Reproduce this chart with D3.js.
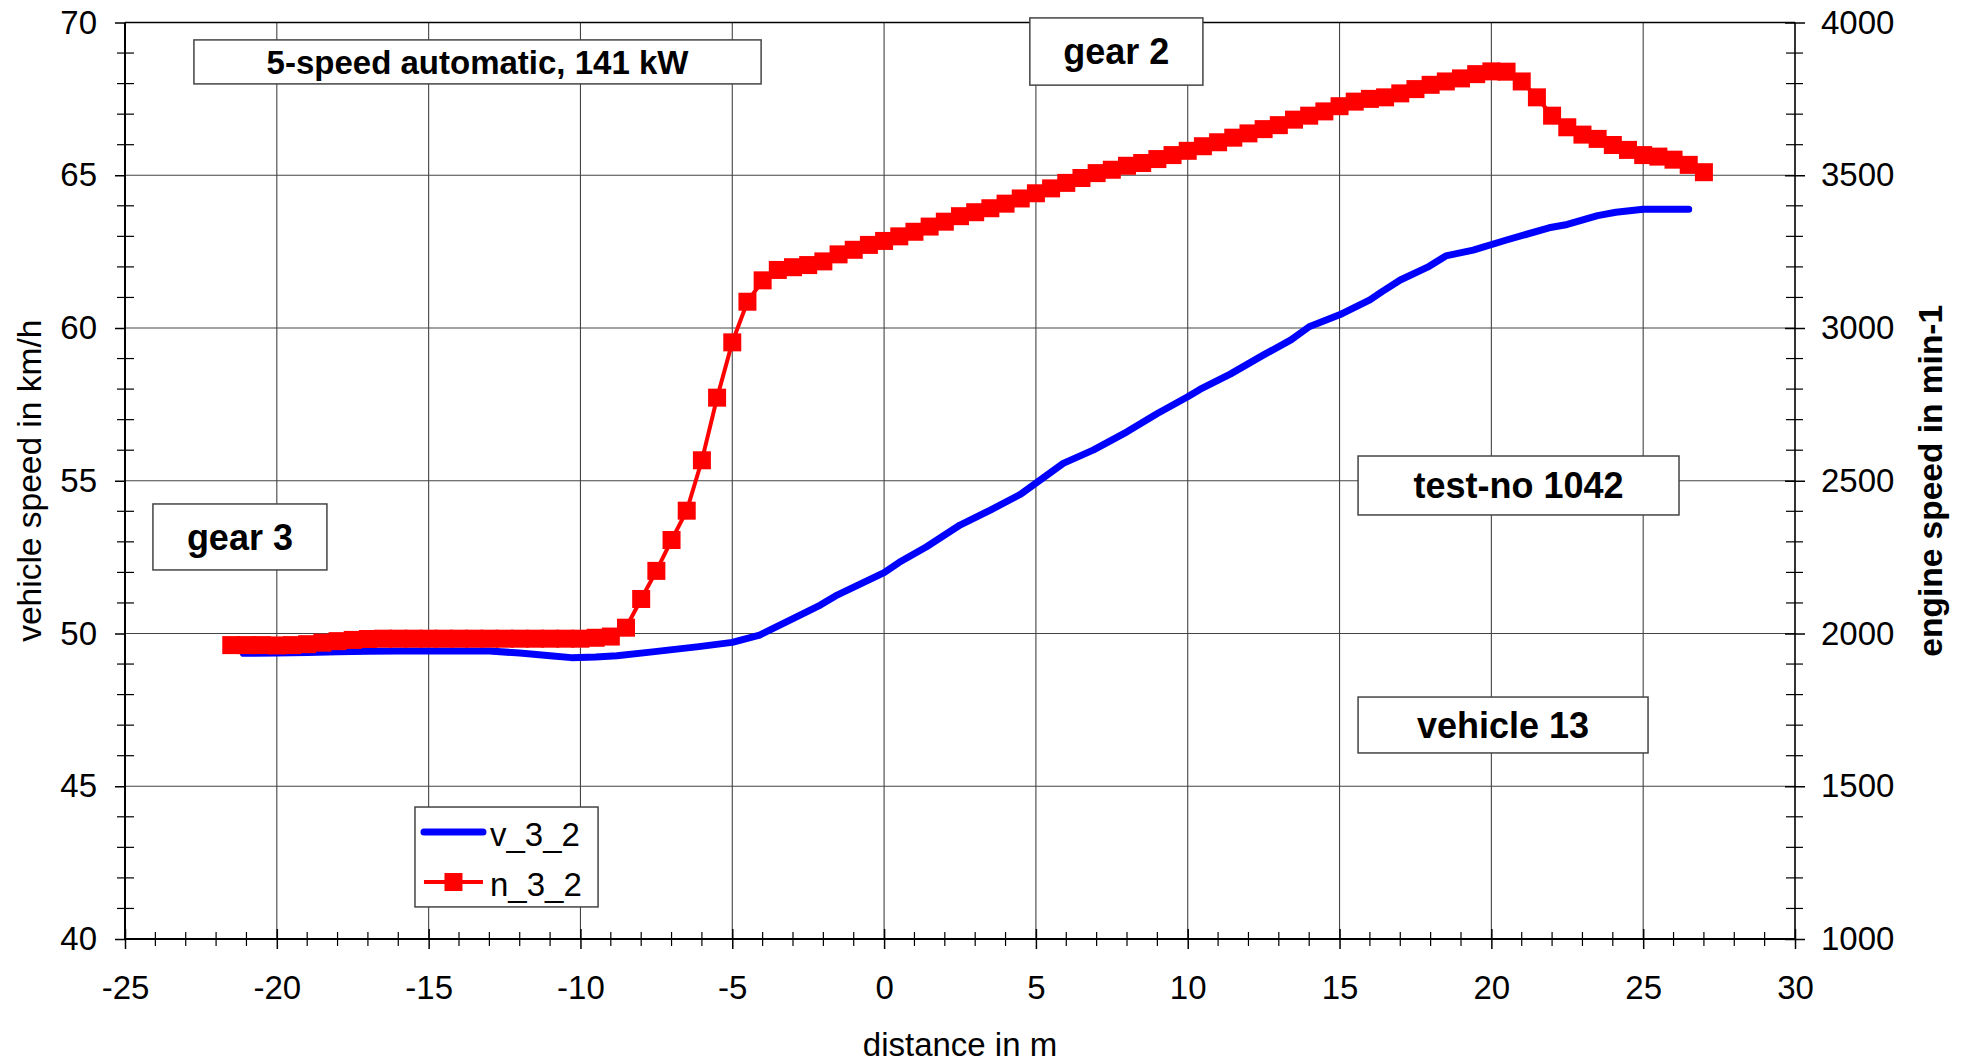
<!DOCTYPE html>
<html>
<head>
<meta charset="utf-8">
<script src="https://cdn.jsdelivr.net/npm/d3@7"></script>
<style>
  html, body { margin: 0; padding: 0; background: #fff; }
  svg { display: block; font-family: "Liberation Sans", Arial, sans-serif; }
</style>
</head>
<body>
<svg id="chart" width="1965" height="1063"></svg>
<script>
// ---------------- data ----------------
const xTicks = [-25, -20, -15, -10, -5, 0, 5, 10, 15, 20, 25, 30];
const leftTicks = [40, 45, 50, 55, 60, 65, 70];
const rightTicks = [1000, 1500, 2000, 2500, 3000, 3500, 4000];

// engine speed n_3_2 (min-1) vs distance (m)
const distN = [-21.5,-21,-20.5,-20,-19.5,-19,-18.5,-18,-17.5,-17,
  -16.5,-16,-15.5,-15,-14.5,-14,-13.5,-13,-12.5,-12,
  -11.5,-11,-10.5,-10,-9.5,-9,-8.5,-8,-7.5,-7,
  -6.5,-6,-5.5,-5,-4.5,-4,-3.5,-3,-2.5,-2,
  -1.5,-1,-0.5,0,0.5,1,1.5,2,2.5,3,
  3.5,4,4.5,5,5.5,6,6.5,7,7.5,8,
  8.5,9,9.5,10,10.5,11,11.5,12,12.5,13,
  13.5,14,14.5,15,15.5,16,16.5,17,17.5,18,
  18.5,19,19.5,20,20.5,21,21.5,22,22.5,23,
  23.5,24,24.5,25,25.5,26,26.5,27];
const rpmN = [1962,1962,1962,1961,1962,1965,1970,1975,1979,1982,
  1983,1983,1983,1983,1983,1983,1983,1983,1983,1983,
  1983,1983,1983,1983,1986,1990,2019,2113,2205,2306,
  2402,2567,2772,2953,3086,3156,3190,3199,3206,3218,
  3241,3256,3272,3285,3300,3315,3332,3348,3366,3379,
  3392,3407,3424,3441,3457,3475,3491,3507,3518,3531,
  3540,3553,3566,3580,3595,3608,3623,3637,3651,3664,
  3682,3695,3709,3726,3741,3750,3755,3768,3782,3796,
  3807,3817,3831,3840,3839,3807,3755,3695,3657,3633,
  3619,3599,3583,3566,3561,3551,3534,3510];

// vehicle speed v_3_2 (km/h) vs distance (m)
const distV = [-21.1,-20,-19,-18,-17,-16,-15,-14,-13,-12,
  -11,-10.3,-9.5,-8.8,-7.7,-6.1,-5.0,-4.1,-3.1,-2.1,
  -1.6,0,0.5,1.4,2.5,3.5,4.5,5,5.9,6.9,
  8,9,10,10.4,11.4,12.5,13.4,14,15,16,
  16.4,17,17.9,18.5,19.4,20.5,21.9,22.5,23.5,24.1,
  25,26.5];
const speedV = [49.35,49.36,49.38,49.40,49.42,49.43,49.43,49.43,49.43,49.36,
  49.27,49.21,49.23,49.27,49.39,49.57,49.71,49.95,50.44,50.93,
  51.23,51.99,52.33,52.84,53.55,54.04,54.56,54.92,55.57,56.01,
  56.6,57.2,57.75,57.99,58.49,59.12,59.61,60.04,60.43,60.92,
  61.19,61.57,61.99,62.36,62.55,62.88,63.28,63.39,63.68,63.79,
  63.89,63.89];

const seriesNames = ["v_3_2", "n_3_2"];
const annotationTexts = ["5-speed automatic, 141 kW", "gear 2", "gear 3", "test-no 1042", "vehicle 13"];

// ---------------- layout ----------------
const L = 125, R = 1795, T = 22.5, B = 939;
const FONT = '"Liberation Sans", Arial, sans-serif';
const svg = d3.select("#chart");
const fmt = d => String(d);

const x = d3.scaleLinear().domain([-25, 30]).range([L, R]);
const yL = d3.scaleLinear().domain([40, 70]).range([B, T]);
const yR = d3.scaleLinear().domain([1000, 4000]).range([B, T]);

// gridlines
const grid = svg.append("g").attr("stroke", "#444").attr("stroke-width", 1.1);
xTicks.filter(v => v > -25 && v < 30).forEach(v => {
  grid.append("line").attr("x1", x(v)).attr("x2", x(v)).attr("y1", T).attr("y2", B);
});
leftTicks.filter(v => v > 40 && v < 70).forEach(v => {
  grid.append("line").attr("x1", L).attr("x2", R).attr("y1", yL(v)).attr("y2", yL(v));
});
// top frame line
svg.append("line").attr("x1", L).attr("x2", R).attr("y1", T).attr("y2", T)
  .attr("stroke", "#000").attr("stroke-width", 1.6);

// minor ticks
const minor = svg.append("g").attr("stroke", "#000").attr("stroke-width", 1.2);
d3.range(-24, 30, 1).filter(v => v % 5 !== 0).forEach(v => {
  minor.append("line").attr("x1", x(v)).attr("x2", x(v)).attr("y1", B - 7).attr("y2", B + 7);
});
d3.range(41, 70, 1).filter(v => v % 5 !== 0).forEach(v => {
  minor.append("line").attr("x1", L - 8).attr("x2", L + 9).attr("y1", yL(v)).attr("y2", yL(v));
});
d3.range(1100, 4000, 100).filter(v => v % 500 !== 0).forEach(v => {
  minor.append("line").attr("x1", R - 9).attr("x2", R + 8).attr("y1", yR(v)).attr("y2", yR(v));
});

// axes
const axB = svg.append("g").attr("transform", `translate(0,${B})`)
  .call(d3.axisBottom(x).tickValues(xTicks).tickSize(10).tickPadding(27).tickFormat(fmt));
axB.selectAll(".tick line").each(function() { d3.select(this).attr("y1", -10); });
const axL = svg.append("g").attr("transform", `translate(${L},0)`)
  .call(d3.axisLeft(yL).tickValues(leftTicks).tickSize(10).tickPadding(18).tickFormat(fmt));
const axR = svg.append("g").attr("transform", `translate(${R},0)`)
  .call(d3.axisRight(yR).tickValues(rightTicks).tickSize(10).tickPadding(16).tickFormat(fmt));
axR.selectAll(".tick line").each(function() { d3.select(this).attr("x1", -10); });

[axB, axL, axR].forEach(a => {
  a.select(".domain").attr("stroke", "#000").attr("stroke-width", 2);
  a.selectAll(".tick line").attr("stroke", "#000").attr("stroke-width", 1.5);
  a.selectAll(".tick text").attr("font-family", FONT).attr("font-size", 33).attr("fill", "#000");
});
axB.select(".domain").attr("d", `M${L},0H${R}`);
axL.select(".domain").attr("d", `M0,${B}V${T}`);
axR.select(".domain").attr("d", `M0,${B}V${T}`).attr("stroke-width", 1.6);

// axis titles
svg.append("text").attr("x", (L + R) / 2).attr("y", 1056).attr("text-anchor", "middle")
  .attr("font-size", 33).text("distance in m");
svg.append("text").attr("transform", `translate(41,${(T + B) / 2}) rotate(-90)`)
  .attr("text-anchor", "middle").attr("font-size", 33.5).text("vehicle speed in km/h");
svg.append("text").attr("transform", `translate(1942,${(T + B) / 2}) rotate(-90)`)
  .attr("text-anchor", "middle").attr("font-size", 33.5).attr("font-weight", "bold").text("engine speed in min-1");

// annotation boxes (data-space anchors: distance m, speed km/h)
const annoLayout = [
  { x0: -22.73, x1: -4.05, y0: 69.43, y1: 67.99, size: 33 },
  { x0: 4.80, x1: 10.50, y0: 70.15, y1: 67.95, size: 36 },
  { x0: -24.08, x1: -18.35, y0: 54.24, y1: 52.08, size: 36 },
  { x0: 15.61, x1: 26.18, y0: 55.81, y1: 53.88, size: 36 },
  { x0: 15.61, x1: 25.16, y0: 47.92, y1: 46.09, size: 36 }
];
annoLayout.forEach((a, i) => {
  const g = svg.append("g");
  g.append("rect").attr("x", x(a.x0)).attr("y", yL(a.y0))
    .attr("width", x(a.x1) - x(a.x0)).attr("height", yL(a.y1) - yL(a.y0))
    .attr("fill", "#fff").attr("stroke", "#444").attr("stroke-width", 1.5);
  g.append("text").attr("x", (x(a.x0) + x(a.x1)) / 2).attr("y", (yL(a.y0) + yL(a.y1)) / 2)
    .attr("dy", "0.36em").attr("text-anchor", "middle")
    .attr("font-size", a.size).attr("font-weight", "bold").text(annotationTexts[i]);
});

// series
const blueData = distV.map((d, i) => [d, speedV[i]]);
const redData = distN.map((d, i) => [d, rpmN[i]]);

svg.append("path").datum(blueData)
  .attr("d", d3.line().x(d => x(d[0])).y(d => yL(d[1])))
  .attr("fill", "none").attr("stroke", "#0000ff").attr("stroke-width", 7)
  .attr("stroke-linejoin", "round").attr("stroke-linecap", "round");

svg.append("path").datum(redData)
  .attr("d", d3.line().x(d => x(d[0])).y(d => yR(d[1])))
  .attr("fill", "none").attr("stroke", "#ff0000").attr("stroke-width", 4);
const SQ = 18;
svg.append("g").selectAll("rect").data(redData).join("rect")
  .attr("x", d => x(d[0]) - SQ / 2).attr("y", d => yR(d[1]) - SQ / 2)
  .attr("width", SQ).attr("height", SQ).attr("fill", "#ff0000");

// legend
const lg = svg.append("g");
const lgX0 = x(-15.45), lgX1 = x(-9.42), lgY0 = yL(44.32), lgY1 = yL(41.05);
lg.append("rect").attr("x", lgX0).attr("y", lgY0).attr("width", lgX1 - lgX0).attr("height", lgY1 - lgY0)
  .attr("fill", "#fff").attr("stroke", "#444").attr("stroke-width", 1.5);
const rowY = [lgY0 + 25, lgY0 + 75];
lg.append("line").attr("x1", lgX0 + 9).attr("x2", lgX0 + 68).attr("y1", rowY[0]).attr("y2", rowY[0])
  .attr("stroke", "#0000ff").attr("stroke-width", 7).attr("stroke-linecap", "round");
lg.append("line").attr("x1", lgX0 + 9).attr("x2", lgX0 + 68).attr("y1", rowY[1]).attr("y2", rowY[1])
  .attr("stroke", "#ff0000").attr("stroke-width", 4);
lg.append("rect").attr("x", lgX0 + 38.5 - SQ / 2).attr("y", rowY[1] - SQ / 2)
  .attr("width", SQ).attr("height", SQ).attr("fill", "#ff0000");
seriesNames.forEach((n, i) => {
  lg.append("text").attr("x", lgX0 + 75).attr("y", rowY[i]).attr("dy", "0.42em")
    .attr("font-size", 33).text(n);
});
</script>
</body>
</html>
